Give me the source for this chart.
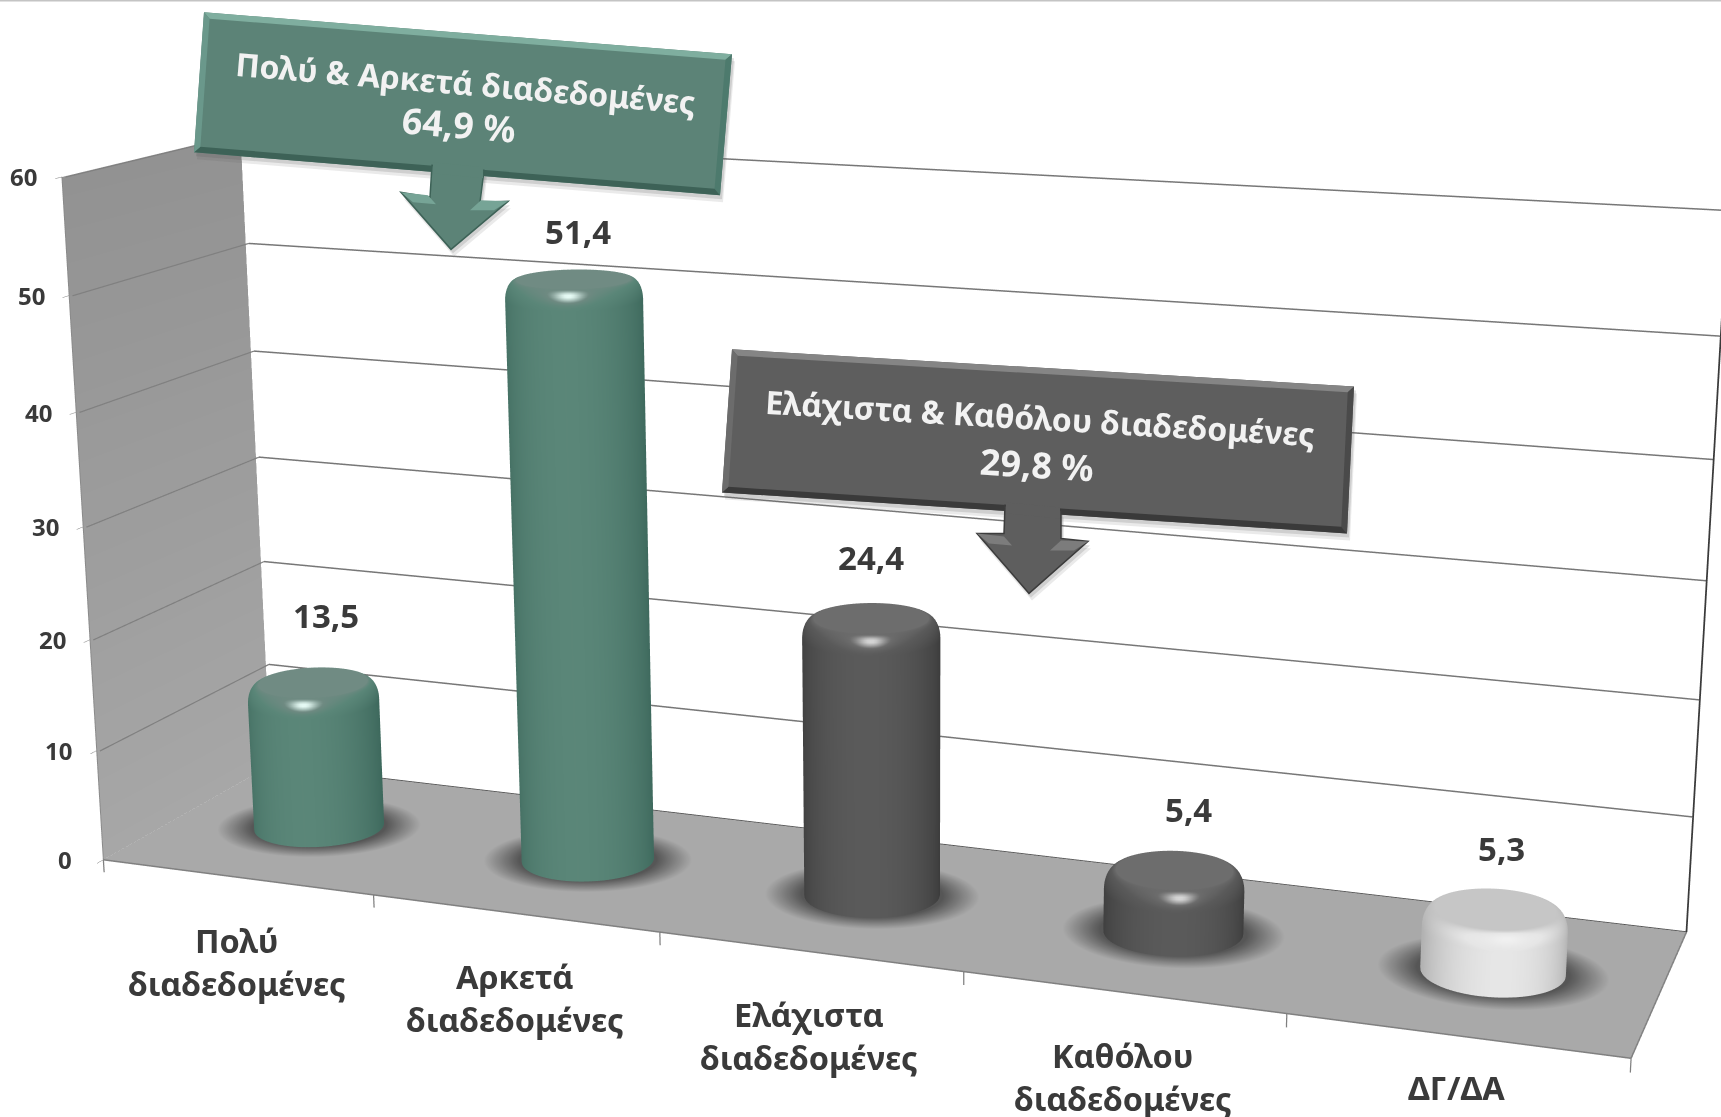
import numpy as np, plotly.graph_objects as go
W,H=1721,1117
categories=["Πολύ<br>διαδεδομένες","Αρκετά<br>διαδεδομένες","Ελάχιστα<br>διαδεδομένες","Καθόλου<br>διαδεδομένες","ΔΓ/ΔΑ"]
values=[13.5,51.4,24.4,5.4,5.3]
value_labels=["13,5","51,4","24,4","5,4","5,3"]
z_ticks=[0,10,20,30,40,50,60]
x_edges=[0,1,2,3,4,5]

# camera of the picture (plotly's fov is fixed, so the plot is laid out oversize and the page is shifted)
Z_LOW,Z_HIGH=-3.0,60.5
ax,ay=2.2146,0.4817
az=(Z_HIGH-Z_LOW)/60
dz=-Z_LOW/60-(az-1)/2
eye=dict(x=1.6851,y=-4.4555,z=1.2096+dz)
cen=dict(x=0.0682,y=0.0188,z=-0.0235+dz)
up=dict(x=-0.0856,y=0.2359,z=0.968)
FOCAL,PPX,PPY=3554.4,922.0,570.1
LH=2*FOCAL*np.tan(np.pi/8);LW=2*max(PPX,W-PPX)
LEFT=LW/2-PPX;TOP=LH/2-PPY
X=lambda x:(x+LEFT)/LW
Y=lambda y:1-(y+TOP)/LH

teal=[[0,'#3e695d'],[.6,'#5a8678'],[.75,'#6f8a82'],[1,'#e6fbf5']]
dark=[[0,'#3a3a3a'],[.6,'#5a5a5a'],[.75,'#6c6c6c'],[1,'#d5d5d5']]
light=[[0,'#a6a6a6'],[.6,'#e6e6e6'],[1,'#f0f0f0']]
ramps=[teal,teal,dark,dark,light]
top_t=[.75,.75,.75,.75,.3]
wide=[.06,.06,.06,.06,.3]
RX=0.217;RY=RX*(ax/5)/ay;FLOOR='#a9a9a9'
azim=np.arctan2(eye['y'],eye['x'])
FLAT=dict(ambient=1,diffuse=0,specular=0,roughness=1,fresnel=0)
fig=go.Figure()
# floor and left wall
gx,gy=np.meshgrid([0,5],[0,1])
fig.add_trace(go.Surface(x=gx,y=gy,z=0*gx,surfacecolor=0*gx,cmin=0,cmax=1,colorscale=[[0,FLOOR],[1,FLOOR]],showscale=False,hoverinfo='skip',lighting=FLAT))
wy,wz=np.meshgrid([0,1],np.linspace(0,60,13))
fig.add_trace(go.Surface(x=0*wy,y=wy,z=wz,surfacecolor=wz,cmin=0,cmax=60,colorscale=[[0,'#a7a7a7'],[1,'#929292']],showscale=False,hoverinfo='skip',lighting=FLAT))
def shadow(cx,cy):
    th=np.linspace(0,2*np.pi,91);s=np.linspace(0,1,30)
    S,TH=np.meshgrid(s,th)
    fig.add_trace(go.Surface(x=cx+1.6*RX*S*np.cos(TH),y=cy+1.45*RY*S*np.sin(TH),z=0.03+0*S,surfacecolor=S,cmin=0,cmax=1,
      colorscale=[[0,'#505050'],[.66,'#565656'],[1,FLOOR]],showscale=False,hoverinfo='skip',lighting=FLAT))
def cylinder(cx,cy,h,ramp,wd,tp):
    b=1.7;rb=.17
    th=np.linspace(0,2*np.pi,145)
    k=np.linspace(0,np.pi/2,12)
    rr=np.r_[1,1,1-rb*(1-np.cos(k)),np.linspace(1-rb,0,6)[1:]]
    zz=np.r_[0,h-b,h-b+b*np.sin(k),h*np.ones(5)]
    uu=np.r_[0,0,k/(np.pi/2),np.ones(5)]
    TH,RR=np.meshgrid(th,rr);ZZ=np.repeat(zz[:,None],len(th),1);U=np.repeat(uu[:,None],len(th),1)
    dth=np.angle(np.exp(1j*(TH-azim)));v=np.clip(np.cos(dth),0,1)
    side=.06+.54*v**1.3-.05*np.sin(dth)
    t=side*(1-U)+tp*U+wd*np.exp(-(dth/.9)**2)*np.sin(np.pi*U)**2+.28*np.exp(-(dth/.22)**2)*np.sin(np.pi*U)**4
    fig.add_trace(go.Surface(x=cx+RX*RR*np.cos(TH),y=cy+RY*RR*np.sin(TH),z=ZZ,surfacecolor=np.clip(t,0,1),cmin=0,cmax=1,colorscale=ramp,showscale=False,hoverinfo='skip',lighting=FLAT))
for i,v in enumerate(values):
    shadow(i+.5,.5);cylinder(i+.5,.5,v,ramps[i],wide[i],top_t[i])
def line3(x,y,z,color,w=3):
    fig.add_trace(go.Scatter3d(x=x,y=y,z=z,mode='lines',line=dict(color=color,width=w),hoverinfo='skip'))
for t in z_ticks[1:]:
    line3([.012,.012],[0,1],[t,t],'#808080',2.5)
    line3([.012,5],[1,1],[t,t],'#777777',3)
line3([0,5],[0,0],[0,0],'#808080');line3([5,5],[0,1],[0,0],'#808080');line3([0,5],[1,1],[0,0],'#555555')
line3([5,5],[1,1],[0,60],'#3a3a3a',3.5);line3([0,0],[0,0],[0,60],'#8a8a8a',2)
for e in x_edges:
    line3([e,e],[0,0],[0,-1.15],'#808080',2.5)
base=dict(showline=False,zeroline=False,showticklabels=False,title='',showbackground=False,showspikes=False,showgrid=False)
sa=[]
FONT="Noto Sans"
xs=[13,4,0,14,6];ys=[67,48,61,61,61]
LAB=dict(family=FONT,size=32.5,color='#3a3a3a')
for i,(c,v,l) in enumerate(zip(categories,values,value_labels)):
    sa.append(dict(x=i+.5,y=0.5,z=v,text=f"<b>{l}</b>",showarrow=False,xshift=xs[i],yshift=ys[i],font=dict(family=FONT,size=33,color='#3a3a3a')))
    parts=c.split("<br>")
    shifts=[-63,-106] if len(parts)==2 else [-52]
    for p,s in zip(parts,shifts):
        sa.append(dict(x=i+.5,y=0,z=0,text=f"<b>{p}</b>",showarrow=False,yshift=s,font=LAB))
for t in z_ticks:
    sa.append(dict(x=0,y=0,z=t,text=f"<b>{t}</b>",showarrow=False,xshift=-38,font=dict(family=FONT,size=24,color='#3a3a3a')))
def poly(p,color,op=1,lw=0,lc=None):
    return dict(type='path',xref='paper',yref='paper',path="M"+" L".join(f"{X(a):.5f},{Y(b):.5f}" for a,b in p)+" Z",fillcolor=color,opacity=op,line=dict(width=lw,color=lc),layer='above')
def lerp(a,b,t):return (a[0]+(b[0]-a[0])*t,a[1]+(b[1]-a[1])*t)
def callout(c,arrow,fill,top,bot,left,right,hl,edge):
    TL,TR,BR,BL=c;s=[]
    for dx,dy,o in [(3,7,.12),(2,4,.18)]:
        s.append(poly([(a+dx,b+dy) for a,b in c],'#555555',o))
        s.append(poly([(a+dx,b+dy) for a,b in arrow],'#555555',o))
    w=6/np.hypot(TR[0]-TL[0],TR[1]-TL[1]);h=6/np.hypot(BL[0]-TL[0],BL[1]-TL[1])
    def ins(u,v):
        a=lerp(TL,TR,u);b=lerp(BL,BR,u);return lerp(a,b,v)
    tl,tr,br,bl=ins(w,h),ins(1-w,h),ins(1-w,1-h),ins(w,1-h)
    s+= [poly(c,fill),poly([TL,TR,tr,tl],top),poly([TR,BR,br,tr],right),poly([BR,BL,bl,br],bot),poly([BL,TL,tl,bl],left)]
    s.append(poly(arrow,fill,1,1.5,edge))
    # cover the outline where the stem joins the box
    s.append(poly([(arrow[0][0]+1,arrow[0][1]-3),(arrow[6][0]-1,arrow[6][1]-3),(arrow[6][0]-1,arrow[6][1]+8),(arrow[0][0]+1,arrow[0][1]+8)],fill))
    L=arrow[2];Rr=arrow[4]
    s.append(poly([L,(L[0]+27,L[1]+3),(L[0]+35,L[1]+12),(L[0]+12,L[1]+10)],hl))
    s.append(poly([Rr,(Rr[0]-27,Rr[1]-1),(Rr[0]-38,Rr[1]+9),(Rr[0]-14,Rr[1]+9)],hl))
    return s
shapes=[dict(type='line',xref='paper',yref='paper',x0=X(0),x1=X(W),y0=Y(0.5),y1=Y(0.5),line=dict(color='#c4c4c4',width=1.5))]
shapes+=callout([(204,12),(732,54),(720,195),(194,152)],[(432,165),(430,197),(401,192),(451,249),(508,201),(480,202),(484,170)],'#5c8377','#7fae9f','#3d6257','#6a988b','#4d7a6d','#76a496','#3d6257')
shapes+=callout([(732,349),(1354,386),(1347,533),(722,492)],[(1005,505),(1004,533),(977,533),(1029,593),(1088,541),(1061,538),(1061,510)],'#5e5e5e','#858585','#3a3a3a','#6c6c6c','#4a4a4a','#7c7c7c','#3c3c3c')
anns=[]
for (x,y,t,a,sz) in [(465,82,"Πολύ & Αρκετά διαδεδομένες",4.8,32),(459,124,"64,9 %",4.8,36),(1040,417,"Ελάχιστα & Καθόλου διαδεδομένες",3.4,32),(1037,464,"29,8 %",3.4,36)]:
    anns.append(dict(x=X(x),y=Y(y),xref='paper',yref='paper',xanchor='center',yanchor='middle',text=f"<b>{t}</b>",textangle=a,showarrow=False,font=dict(family=FONT,size=sz,color='#f2f2f2')))
fig.update_layout(width=LW,height=LH,margin=dict(l=0,r=0,t=0,b=0),showlegend=False,paper_bgcolor='white',
 scene=dict(domain=dict(x=[0,1],y=[0,1]),aspectmode='manual',aspectratio=dict(x=ax,y=ay,z=az),bgcolor='white',
 camera=dict(eye=eye,center=cen,up=up),annotations=sa,
 xaxis=dict(range=[0,5],**base),
 yaxis=dict(range=[0,1],**base),
 zaxis=dict(range=[Z_LOW,Z_HIGH],tickvals=z_ticks,ticks='outside',ticklen=8,tickcolor='#808080',**base)),
 annotations=anns,shapes=shapes)
post=f"document.body.style.margin='0';document.documentElement.style.overflow='hidden';document.body.style.overflow='hidden';var d=document.querySelector('.plotly-graph-div');d.style.marginTop='{-TOP:.1f}px';d.style.marginLeft='{-LEFT:.1f}px';"
fig.write_html("out.html",post_script=post,config=dict(displayModeBar=False))
